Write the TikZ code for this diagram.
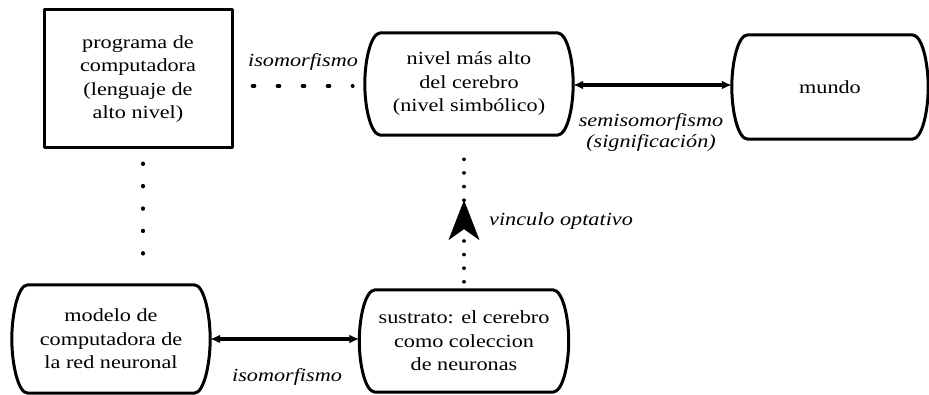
\documentclass[tikz,border=0pt]{standalone}
\usepackage{fontspec}
\setmainfont{Liberation Serif}[FakeStretch=1.2]
\usetikzlibrary{arrows.meta,decorations.markings}
\tikzset{
  boxline/.style={line width=3pt, line join=round},
  txt/.style={align=center, font=\fontsize{18.5}{23.5}\selectfont, inner sep=0pt},
  lab/.style={align=center, font=\fontsize{18.5}{21}\selectfont\itshape, inner sep=0pt},
  wdots/.style={line width=3.6pt, line cap=round, dash pattern=on 2pt off 23pt},
  vdots/.style={line width=4pt, line cap=round, dash pattern=on 0.5pt off 21.9pt},
  ndots/.style={line width=3.6pt, line cap=round, dash pattern=on 0.01pt off 13.6pt},
  thickarrow/.style={line width=3.4pt, {Latex[length=10pt,width=9pt]}-{Latex[length=10pt,width=9pt]}},
}
\newcommand\bulgeshape[1]{%
  \draw[boxline] ([xshift=16pt]#1.north west) -- ([xshift=-16pt]#1.north east)
    .. controls ([xshift=-6pt]#1.north east) and ([yshift=24pt]#1.east) .. (#1.east)
    .. controls ([yshift=-24pt]#1.east) and ([xshift=-6pt]#1.south east) .. ([xshift=-16pt]#1.south east)
    -- ([xshift=16pt]#1.south west)
    .. controls ([xshift=6pt]#1.south west) and ([yshift=-24pt]#1.west) .. (#1.west)
    .. controls ([yshift=24pt]#1.west) and ([xshift=6pt]#1.north west) .. cycle;}
\begin{document}
\begin{tikzpicture}[x=1pt,y=-1pt]
\useasboundingbox[fill=white] (0,0) rectangle (929,395);

% nodes
\node[txt, draw, boxline, minimum width=188pt, minimum height=138pt] (n1) at (138,79)
  {programa de\\computadora\\(lenguaje de\\alto nivel)};
\node[txt, minimum width=208pt, minimum height=102pt] (n2) at (469,84)
  {nivel más alto\\del cerebro\\(nivel simbólico)};
\node[txt, minimum width=196pt, minimum height=104pt] (n3) at (830,87) {mundo};
\node[txt, minimum width=198pt, minimum height=108pt] (n4) at (111,339)
  {modelo de\\computadora de\\la red neuronal};
\node[txt, minimum width=209pt, minimum height=102pt] (n5) at (464,341)
  {sustrato: el cerebro\\como coleccion\\de neuronas};

\bulgeshape{n2}
\bulgeshape{n3}
\bulgeshape{n4}
\bulgeshape{n5}

% connectors
\draw[wdots, shorten <=19pt, shorten >=12pt] ([yshift=-2pt]n1.east |- n2.west) -- ([yshift=-2pt]n2.west);
\node[lab] (l1) at (303,62) {isomorfismo};

\draw[thickarrow] ([yshift=-1pt]n2.east) -- ([yshift=-1pt]n2.east -| n3.west);
\node[lab] (l2) at (651,132) {semisomorfismo\\(significación)};

\draw[vdots, shorten <=14pt, shorten >=10pt] ([xshift=5pt]n1.south) -- ([xshift=5pt]n1.south |- n4.north);

\draw[ndots, shorten <=8pt, shorten >=12pt,
  postaction={decorate},
  decoration={markings, mark=at position 0.58 with {\arrow[line width=1pt]{Stealth[length=40pt,width=31pt,inset=11pt]}}}]
  (n5.north) -- (n5.north |- n2.south);
\node[lab, anchor=west] (l3) at (489,221) {vinculo optativo};

\draw[thickarrow] (n4.east) -- (n4.east -| n5.west);
\node[lab] (l4) at (287,377) {isomorfismo};
\end{tikzpicture}
\end{document}
